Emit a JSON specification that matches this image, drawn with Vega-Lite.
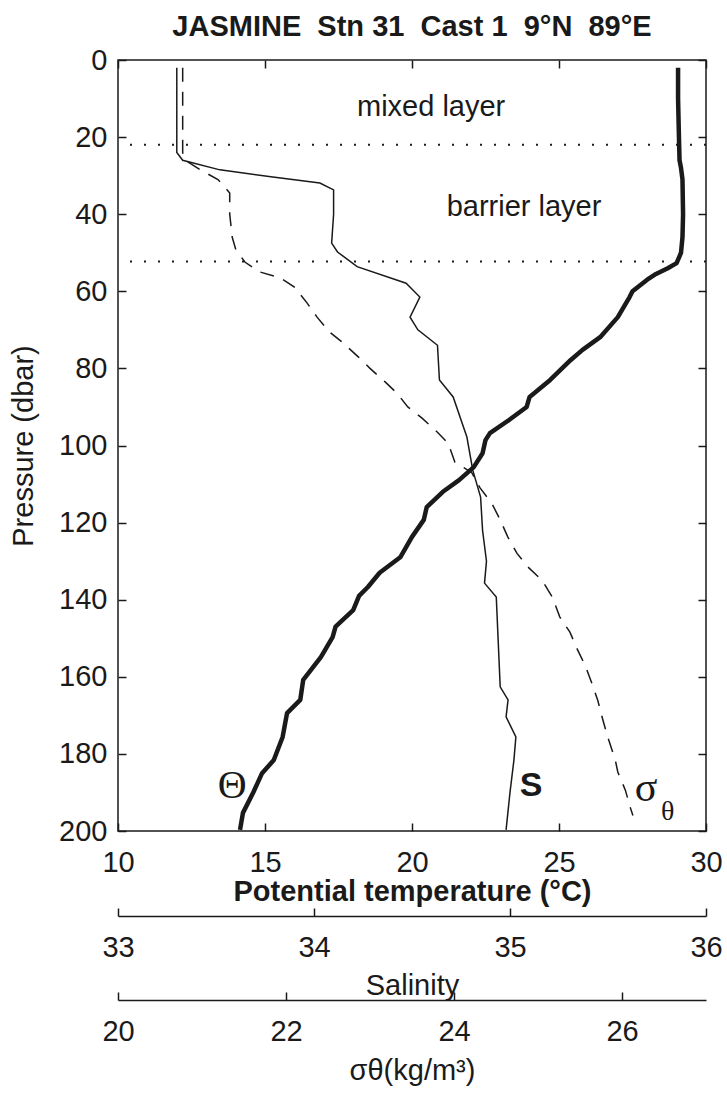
{
  "$schema": "https://vega.github.io/schema/vega-lite/v6.json",
  "width": 588,
  "height": 771,
  "autosize": {"type": "none"},
  "padding": {"left": 118, "top": 60, "right": 21, "bottom": 267},
  "background": "white",
  "title": {
    "text": "JASMINE\u00a0\u00a0Stn 31\u00a0\u00a0Cast 1\u00a0\u00a09°N\u00a0\u00a089°E",
    "font": "Liberation Sans",
    "fontSize": 29,
    "fontWeight": "bold",
    "color": "#1a1a1a",
    "frame": "group",
    "anchor": "middle",
    "baseline": "alphabetic",
    "offset": -19
  },
  "config": {
    "view": {"stroke": "#1a1a1a", "strokeWidth": 1.5},
    "axis": {
      "grid": false,
      "labelFont": "Liberation Sans",
      "labelFontSize": 29,
      "labelColor": "#1a1a1a",
      "titleFont": "Liberation Sans",
      "titleFontSize": 29,
      "titleColor": "#1a1a1a",
      "titleFontWeight": "normal",
      "tickColor": "#1a1a1a",
      "tickWidth": 1.5,
      "domainColor": "#1a1a1a",
      "domainWidth": 1.5,
      "labelFlush": false,
      "labelOverlap": false,
      "tickSize": -8,
      "labelPadding": 25
    }
  },
  "datasets": {
    "theta": [
      {"t": 29.05, "p": 2}, {"t": 29.05, "p": 10}, {"t": 29.08, "p": 20}, {"t": 29.1, "p": 26},
      {"t": 29.15, "p": 28}, {"t": 29.2, "p": 31}, {"t": 29.22, "p": 40}, {"t": 29.2, "p": 46},
      {"t": 29.15, "p": 50}, {"t": 29.0, "p": 52.7}, {"t": 28.7, "p": 54}, {"t": 28.3, "p": 55.5},
      {"t": 28.0, "p": 57}, {"t": 27.5, "p": 60}, {"t": 27.4, "p": 61.5}, {"t": 27.0, "p": 66.7},
      {"t": 26.4, "p": 71.9}, {"t": 25.8, "p": 75.2}, {"t": 25.4, "p": 77.8}, {"t": 24.7, "p": 83},
      {"t": 24.0, "p": 87.4}, {"t": 23.9, "p": 90}, {"t": 23.3, "p": 93.4}, {"t": 22.65, "p": 96.8},
      {"t": 22.5, "p": 98.6}, {"t": 22.4, "p": 102}, {"t": 22.1, "p": 105.6}, {"t": 21.6, "p": 109},
      {"t": 21.05, "p": 112}, {"t": 20.5, "p": 116}, {"t": 20.4, "p": 119.3}, {"t": 20.0, "p": 123.7},
      {"t": 19.6, "p": 129}, {"t": 18.9, "p": 133}, {"t": 18.5, "p": 136.7}, {"t": 18.2, "p": 139},
      {"t": 18.0, "p": 142.7}, {"t": 17.4, "p": 147}, {"t": 17.3, "p": 149.7}, {"t": 16.9, "p": 154.9},
      {"t": 16.3, "p": 160.8}, {"t": 16.2, "p": 166}, {"t": 15.75, "p": 169.4}, {"t": 15.6, "p": 175.6},
      {"t": 15.3, "p": 181.6}, {"t": 14.9, "p": 185}, {"t": 14.6, "p": 190}, {"t": 14.25, "p": 195.3},
      {"t": 14.15, "p": 199.7}
    ],
    "salinity": [
      {"s": 33.3, "p": 2}, {"s": 33.3, "p": 24}, {"s": 33.33, "p": 26}, {"s": 33.52, "p": 28.5},
      {"s": 33.78, "p": 30.3}, {"s": 34.03, "p": 31.9}, {"s": 34.1, "p": 33.7}, {"s": 34.1, "p": 40},
      {"s": 34.09, "p": 47.5}, {"s": 34.12, "p": 49.8}, {"s": 34.22, "p": 53.6}, {"s": 34.47, "p": 57.9},
      {"s": 34.54, "p": 61.5}, {"s": 34.49, "p": 66.7}, {"s": 34.53, "p": 70}, {"s": 34.63, "p": 74},
      {"s": 34.64, "p": 83}, {"s": 34.71, "p": 87.4}, {"s": 34.78, "p": 97.8}, {"s": 34.81, "p": 106.4},
      {"s": 34.85, "p": 113.4}, {"s": 34.86, "p": 122}, {"s": 34.88, "p": 130}, {"s": 34.87, "p": 135.7},
      {"s": 34.93, "p": 139.3}, {"s": 34.94, "p": 151}, {"s": 34.95, "p": 162.6}, {"s": 34.99, "p": 166},
      {"s": 34.98, "p": 170.4}, {"s": 35.03, "p": 175.6}, {"s": 35.02, "p": 181.6}, {"s": 35.0, "p": 190},
      {"s": 34.98, "p": 199.7}
    ],
    "sigma": [
      {"sig": 20.77, "p": 2}, {"sig": 20.77, "p": 24}, {"sig": 20.8, "p": 26}, {"sig": 20.98, "p": 28.5},
      {"sig": 21.19, "p": 31}, {"sig": 21.33, "p": 34.5}, {"sig": 21.33, "p": 40}, {"sig": 21.36, "p": 46},
      {"sig": 21.4, "p": 49}, {"sig": 21.51, "p": 52.4}, {"sig": 21.69, "p": 55}, {"sig": 21.93, "p": 56.5},
      {"sig": 22.1, "p": 58.9}, {"sig": 22.25, "p": 63}, {"sig": 22.37, "p": 66.7}, {"sig": 22.52, "p": 70.6},
      {"sig": 22.67, "p": 73.2}, {"sig": 22.86, "p": 77}, {"sig": 23.0, "p": 80}, {"sig": 23.18, "p": 83.5},
      {"sig": 23.32, "p": 86.4}, {"sig": 23.45, "p": 90}, {"sig": 23.62, "p": 92.9}, {"sig": 23.8, "p": 96.5},
      {"sig": 23.93, "p": 99.4}, {"sig": 24.01, "p": 104.3}, {"sig": 24.21, "p": 107}, {"sig": 24.31, "p": 111},
      {"sig": 24.45, "p": 115}, {"sig": 24.55, "p": 119.3}, {"sig": 24.64, "p": 123.7}, {"sig": 24.75, "p": 128},
      {"sig": 24.88, "p": 131.5}, {"sig": 25.05, "p": 135}, {"sig": 25.17, "p": 139.3}, {"sig": 25.26, "p": 144.5},
      {"sig": 25.38, "p": 148.4}, {"sig": 25.46, "p": 152.5}, {"sig": 25.56, "p": 157}, {"sig": 25.64, "p": 161.6},
      {"sig": 25.71, "p": 166}, {"sig": 25.77, "p": 171}, {"sig": 25.83, "p": 175.6}, {"sig": 25.92, "p": 181.6},
      {"sig": 25.95, "p": 184.7}, {"sig": 26.04, "p": 189.4}, {"sig": 26.1, "p": 194}, {"sig": 26.13, "p": 196}
    ],
    "bounds": [
      {"p": 22}, {"p": 52.3}
    ],
    "notes": [
      {"kind": "layer", "label": "mixed layer", "t": 20.65, "p": 12.2},
      {"kind": "layer", "label": "barrier layer", "t": 23.81, "p": 38.1},
      {"kind": "Theta", "label": "Θ", "t": 13.88, "p": 188.3},
      {"kind": "S", "label": "S", "t": 24.05, "p": 188.3},
      {"kind": "sigma", "label": "σ", "t": 27.96, "p": 188.8},
      {"kind": "sub", "label": "θ", "t": 28.7, "p": 195}
    ]
  },
  "layer": [
    {
      "data": {"name": "bounds"},
      "mark": {"type": "rule", "strokeDash": [2, 12], "strokeWidth": 2, "color": "#1a1a1a"},
      "encoding": {
        "y": {"field": "p", "type": "quantitative", "scale": {"domain": [0, 200], "reverse": true, "nice": false, "zero": false}, "axis": null}
      }
    },
    {
      "data": {"name": "theta"},
      "mark": {"type": "line", "strokeWidth": 4.5, "color": "#1a1a1a", "strokeJoin": "round", "strokeCap": "butt"},
      "encoding": {
        "x": {"field": "t", "type": "quantitative", "scale": {"domain": [10, 30], "nice": false, "zero": false},
              "axis": {"orient": "bottom", "values": [10, 15, 20, 25, 30], "domain": false, "title": "Potential temperature (°C)", "titleFontWeight": "bold", "titlePadding": 0}},
        "y": {"field": "p", "type": "quantitative",
              "axis": {"orient": "left", "values": [0, 20, 40, 60, 80, 100, 120, 140, 160, 180, 200], "domain": false, "labelPadding": 19, "title": "Pressure (dbar)", "titlePadding": 20}},
        "order": {"field": "p", "type": "quantitative"}
      }
    },
    {
      "data": {"name": "salinity"},
      "mark": {"type": "line", "strokeWidth": 1.5, "color": "#1a1a1a"},
      "encoding": {
        "x": {"field": "s", "type": "quantitative", "scale": {"domain": [33, 36], "nice": false, "zero": false},
              "axis": {"orient": "bottom", "offset": 85, "values": [33, 34, 35, 36], "domain": true, "title": "Salinity", "titlePadding": 9}},
        "y": {"field": "p", "type": "quantitative", "axis": null},
        "order": {"field": "p", "type": "quantitative"}
      }
    },
    {
      "data": {"name": "sigma"},
      "mark": {"type": "line", "strokeWidth": 1.5, "color": "#1a1a1a", "strokeDash": [14, 10]},
      "encoding": {
        "x": {"field": "sig", "type": "quantitative", "scale": {"domain": [20, 27], "nice": false, "zero": false},
              "axis": {"orient": "bottom", "offset": 169, "values": [20, 22, 24, 26], "domain": true, "title": "σθ(kg/m³)", "titlePadding": 10}},
        "y": {"field": "p", "type": "quantitative", "axis": null},
        "order": {"field": "p", "type": "quantitative"}
      }
    },
    {
      "data": {"name": "notes"},
      "transform": [{"filter": "datum.kind === 'layer'"}],
      "mark": {"type": "text", "font": "Liberation Sans", "fontSize": 29, "color": "#1a1a1a", "align": "center", "baseline": "middle"},
      "encoding": {
        "x": {"field": "t", "type": "quantitative", "scale": {"domain": [10, 30], "nice": false, "zero": false},
              "axis": {"orient": "top", "values": [10, 15, 20, 25, 30], "labels": false, "domain": false, "title": null}},
        "y": {"field": "p", "type": "quantitative",
              "axis": {"orient": "right", "values": [0, 20, 40, 60, 80, 100, 120, 140, 160, 180, 200], "labels": false, "domain": false, "title": null}},
        "text": {"field": "label"}
      }
    },
    {
      "data": {"name": "notes"},
      "transform": [{"filter": "datum.kind === 'Theta'"}],
      "mark": {"type": "text", "font": "Liberation Serif", "fontSize": 40, "color": "#1a1a1a", "align": "center", "baseline": "middle"},
      "encoding": {
        "x": {"field": "t", "type": "quantitative", "scale": {"domain": [10, 30], "nice": false, "zero": false}, "axis": null},
        "y": {"field": "p", "type": "quantitative", "axis": null},
        "text": {"field": "label"}
      }
    },
    {
      "data": {"name": "notes"},
      "transform": [{"filter": "datum.kind === 'S'"}],
      "mark": {"type": "text", "font": "Liberation Sans", "fontSize": 34, "fontWeight": "bold", "color": "#1a1a1a", "align": "center", "baseline": "middle"},
      "encoding": {
        "x": {"field": "t", "type": "quantitative", "scale": {"domain": [10, 30], "nice": false, "zero": false}, "axis": null},
        "y": {"field": "p", "type": "quantitative", "axis": null},
        "text": {"field": "label"}
      }
    },
    {
      "data": {"name": "notes"},
      "transform": [{"filter": "datum.kind === 'sigma'"}],
      "mark": {"type": "text", "font": "Liberation Serif", "fontSize": 42, "color": "#1a1a1a", "align": "center", "baseline": "middle"},
      "encoding": {
        "x": {"field": "t", "type": "quantitative", "scale": {"domain": [10, 30], "nice": false, "zero": false}, "axis": null},
        "y": {"field": "p", "type": "quantitative", "axis": null},
        "text": {"field": "label"}
      }
    },
    {
      "data": {"name": "notes"},
      "transform": [{"filter": "datum.kind === 'sub'"}],
      "mark": {"type": "text", "font": "Liberation Serif", "fontSize": 28, "color": "#1a1a1a", "align": "center", "baseline": "middle"},
      "encoding": {
        "x": {"field": "t", "type": "quantitative", "scale": {"domain": [10, 30], "nice": false, "zero": false}, "axis": null},
        "y": {"field": "p", "type": "quantitative", "axis": null},
        "text": {"field": "label"}
      }
    }
  ],
  "resolve": {
    "scale": {"x": "independent"},
    "axis": {"x": "independent", "y": "independent"}
  }
}
